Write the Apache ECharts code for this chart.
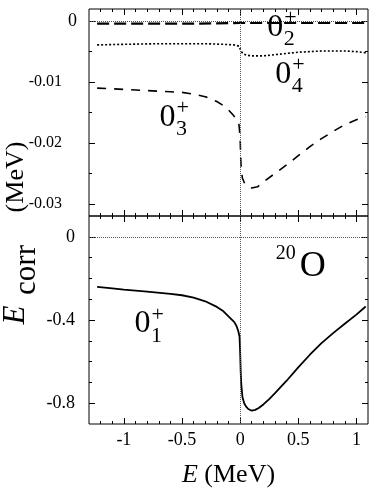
<!DOCTYPE html>
<html><head><meta charset="utf-8">
<script src="https://cdn.jsdelivr.net/npm/echarts@6/dist/echarts.min.js"></script>
<style>html,body{margin:0;padding:0;background:#fff}#c{width:374px;height:491px}</style>
</head><body><div id="c"></div>
<script>
// ---- axis ranges and ticks ----
const XMIN = -1.3, XMAX = 1.1;
const xMajor = [-1, -0.5, 0, 0.5, 1];
const xMinor = [-1.2, -1.1, -0.9, -0.8, -0.7, -0.6, -0.4, -0.3, -0.2, -0.1, 0.1, 0.2, 0.3, 0.4, 0.6, 0.7, 0.8, 0.9];
const TOP_YMIN = -0.032, TOP_YMAX = 0.002;
const topYMajor = [0, -0.01, -0.02, -0.03];
const topYMinor = [-0.005, -0.015, -0.025];
const topYZeroLabel = [0];
const topYOtherLabels = [-0.01, -0.02, -0.03];
const BOT_YMIN = -0.9, BOT_YMAX = 0.1;
const botYMajor = [0, -0.4, -0.8];
const botYMinor = [-0.1, -0.2, -0.3, -0.5, -0.6, -0.7];

// ---- series data (E in MeV, Ecorr in MeV) ----
const s02_x = [-1.23, -0.8, -0.4, 0, 0.4, 0.8, 1.08];
const s02_y = [-0.0004, -0.0004, -0.0004, -0.0003, -0.0003, -0.0003, -0.0003];

const s04_x = [-1.23, -1.0, -0.7, -0.5, -0.3, -0.15, -0.05, -0.01, 0, 0.01, 0.03, 0.06, 0.1, 0.2, 0.3, 0.4, 0.5, 0.6, 0.7, 0.8, 0.9, 1.0, 1.08];
const s04_y = [-0.0039, -0.0038, -0.0037, -0.0037, -0.0037, -0.0038, -0.0039, -0.0041, -0.0044, -0.0050, -0.0054, -0.0056, -0.0057, -0.0057, -0.0055, -0.0053, -0.0051, -0.0050, -0.0049, -0.0049, -0.0049, -0.0050, -0.0052];

const s03_x = [-1.23, -1.0, -0.8, -0.6, -0.5, -0.4, -0.3, -0.2, -0.15, -0.1, -0.06, -0.03, -0.01, 0, 0.005, 0.01, 0.02, 0.04, 0.07, 0.1, 0.15, 0.2, 0.3, 0.4, 0.5, 0.6, 0.7, 0.8, 0.9, 1.0, 1.08];
const s03_y = [-0.0110, -0.0112, -0.0114, -0.0116, -0.0117, -0.0120, -0.0124, -0.0132, -0.0138, -0.0146, -0.0154, -0.0162, -0.0170, -0.0190, -0.0225, -0.0245, -0.0258, -0.0267, -0.0272, -0.0274, -0.0272, -0.0264, -0.0250, -0.0236, -0.0221, -0.0206, -0.0193, -0.0181, -0.0170, -0.0162, -0.0157];

const s01_x = [-1.23, -1.1, -1.0, -0.8, -0.6, -0.5, -0.4, -0.3, -0.2, -0.15, -0.1, -0.05, -0.03, -0.015, -0.005, 0, 0.005, 0.01, 0.02, 0.035, 0.05, 0.07, 0.1, 0.13, 0.16, 0.2, 0.25, 0.3, 0.4, 0.5, 0.6, 0.7, 0.8, 0.9, 1.0, 1.08];
const s01_y = [-0.241, -0.248, -0.254, -0.264, -0.274, -0.281, -0.292, -0.310, -0.337, -0.355, -0.383, -0.41, -0.43, -0.455, -0.48, -0.55, -0.65, -0.71, -0.77, -0.80, -0.815, -0.828, -0.836, -0.832, -0.823, -0.806, -0.78, -0.752, -0.692, -0.628, -0.567, -0.511, -0.463, -0.418, -0.374, -0.335];

// ---- state labels: [main, super, sub, x, y] ----
const stateLabels_top = [['0', '+', '2', 0.303, -0.00107], ['0', '+', '4', 0.372, -0.0087], ['0', '+', '3', -0.624, -0.0158]];
const stateLabels_bot = [['0', '+', '1', -0.839, -0.418]];
const nucleusLabel = ['20', 'O', 0.625, -0.141];

const FONT = '"Liberation Serif", "Times New Roman", serif';
const pair = (xs, ys) => xs.map((x, i) => [x, ys[i]]);

function tickAxis(grid, pos, min, max, vals, len, label) {
  return {
    type: 'value', gridIndex: grid, position: pos, min: min, max: max,
    axisLine: { show: false, onZero: false },
    splitLine: { show: false },
    axisTick: { show: true, inside: true, length: len, customValues: vals, lineStyle: { color: '#000', width: 1 } },
    axisLabel: label || { show: false }
  };
}
const labelBase = { show: true, color: '#000', fontFamily: FONT, fontSize: 18 };

const xAxes = [];
[0, 1].forEach(g => {
  const bottomMajor = tickAxis(g, 'bottom', XMIN, XMAX, xMajor, 6,
    g === 1 ? Object.assign({}, labelBase, { customValues: xMajor, margin: 7, formatter: v => String(v) }) : null);
  if (g === 1) {
    bottomMajor.name = '{i|E} (MeV)';
    bottomMajor.nameLocation = 'middle';
    bottomMajor.nameGap = 38;
    bottomMajor.nameTextStyle = { fontFamily: FONT, fontSize: 26, color: '#000',
      rich: { i: { fontFamily: FONT, fontSize: 26, fontStyle: 'italic', color: '#000' } } };
  }
  xAxes.push(bottomMajor);
  xAxes.push(tickAxis(g, 'bottom', XMIN, XMAX, xMinor, 3));
  xAxes.push(tickAxis(g, 'top', XMIN, XMAX, xMajor, 6));
  xAxes.push(tickAxis(g, 'top', XMIN, XMAX, xMinor, 3));
});

const yAxes = [
  tickAxis(0, 'left', TOP_YMIN, TOP_YMAX, topYMajor, 6, Object.assign({}, labelBase, {
    customValues: topYZeroLabel, margin: 12, formatter: v => String(v)
  })),
  tickAxis(0, 'left', TOP_YMIN, TOP_YMAX, topYMinor, 3, Object.assign({}, labelBase, {
    fontSize: 16, customValues: topYOtherLabels, margin: 27, formatter: v => String(v)
  })),
  tickAxis(0, 'right', TOP_YMIN, TOP_YMAX, topYMajor, 6),
  tickAxis(0, 'right', TOP_YMIN, TOP_YMAX, topYMinor, 3),
  tickAxis(1, 'left', BOT_YMIN, BOT_YMAX, botYMajor, 6, Object.assign({}, labelBase, {
    customValues: botYMajor, margin: 14, formatter: v => String(v)
  })),
  tickAxis(1, 'left', BOT_YMIN, BOT_YMAX, botYMinor, 3),
  tickAxis(1, 'right', BOT_YMIN, BOT_YMAX, botYMajor, 6),
  tickAxis(1, 'right', BOT_YMIN, BOT_YMAX, botYMinor, 3)
];

function stateMarks(list) {
  const out = [];
  list.forEach(([m, sup, sub, x, y]) => {
    out.push({ coord: [x, y], label: { formatter: m, fontSize: 32, fontFamily: FONT, offset: [0, 0] } });
    out.push({ coord: [x, y], label: { formatter: sup, fontSize: 22, fontFamily: FONT, offset: [15, -9] } });
    out.push({ coord: [x, y], label: { formatter: sub, fontSize: 22, fontFamily: FONT, offset: [14, 12] } });
  });
  return out;
}
const markPointBase = {
  symbol: 'circle', symbolSize: 0, silent: true, animation: false,
  label: { show: true, position: 'inside', color: '#000', fontFamily: FONT }
};
const refLine = {
  silent: true, symbol: ['none', 'none'], animation: false,
  label: { show: false },
  lineStyle: { color: '#555', width: 1, type: [1, 1] },
  data: [{ xAxis: 0 }, { yAxis: 0 }]
};

const option = {
  animation: false,
  backgroundColor: '#fff',
  textStyle: { fontFamily: FONT },
  grid: [
    { left: 89, right: 6, top: 9, height: 207, show: true, borderColor: '#000', borderWidth: 1, backgroundColor: 'transparent' },
    { left: 89, right: 6, top: 216, height: 208, show: true, borderColor: '#000', borderWidth: 1, backgroundColor: 'transparent' }
  ],
  xAxis: xAxes,
  yAxis: yAxes,
  series: [
    { type: 'line', xAxisIndex: 0, yAxisIndex: 0, data: pair(s02_x, s02_y), showSymbol: false, symbol: 'none',
      lineStyle: { color: '#000', width: 2.2, type: [12, 5], cap: 'butt' }, markLine: refLine,
      markPoint: Object.assign({}, markPointBase, { data: stateMarks([stateLabels_top[0]]) }) },
    { type: 'line', xAxisIndex: 0, yAxisIndex: 0, data: pair(s04_x, s04_y), showSymbol: false, symbol: 'none',
      lineStyle: { color: '#000', width: 1.6, type: [2, 2], cap: 'butt' },
      markPoint: Object.assign({}, markPointBase, { data: stateMarks([stateLabels_top[1]]) }) },
    { type: 'line', xAxisIndex: 0, yAxisIndex: 0, data: pair(s03_x, s03_y), showSymbol: false, symbol: 'none',
      lineStyle: { color: '#000', width: 1.6, type: [9, 8], cap: 'butt' },
      markPoint: Object.assign({}, markPointBase, { data: stateMarks([stateLabels_top[2]]) }) },
    { type: 'line', xAxisIndex: 4, yAxisIndex: 4, data: pair(s01_x, s01_y), showSymbol: false, symbol: 'none',
      lineStyle: { color: '#000', width: 1.8 }, markLine: refLine,
      markPoint: Object.assign({}, markPointBase, { data: stateMarks(stateLabels_bot).concat([
        { coord: [nucleusLabel[2], nucleusLabel[3]], label: { formatter: nucleusLabel[1], fontSize: 36, fontFamily: FONT, offset: [0, 0] } },
        { coord: [nucleusLabel[2], nucleusLabel[3]], label: { formatter: nucleusLabel[0], fontSize: 20, fontFamily: FONT, offset: [-27, -12] } }
      ]) }) }
  ],
  graphic: [
    { type: 'text', x: 16, y: 177, rotation: Math.PI / 2, silent: true,
      style: { text: '(MeV)', align: 'center', verticalAlign: 'middle', fill: '#000', font: '26px "Liberation Serif"' } },
    { type: 'text', x: 27, y: 270, rotation: Math.PI / 2, silent: true,
      style: { text: 'corr', align: 'center', verticalAlign: 'middle', fill: '#000', font: '31px "Liberation Serif"' } },
    { type: 'text', x: 16, y: 315, rotation: Math.PI / 2, silent: true,
      style: { text: 'E', align: 'center', verticalAlign: 'middle', fill: '#000', font: 'italic 31px "Liberation Serif"' } }
  ]
};
const chart = echarts.init(document.getElementById('c'), null, { renderer: 'canvas' });
chart.setOption(option);
</script>
</body></html>
